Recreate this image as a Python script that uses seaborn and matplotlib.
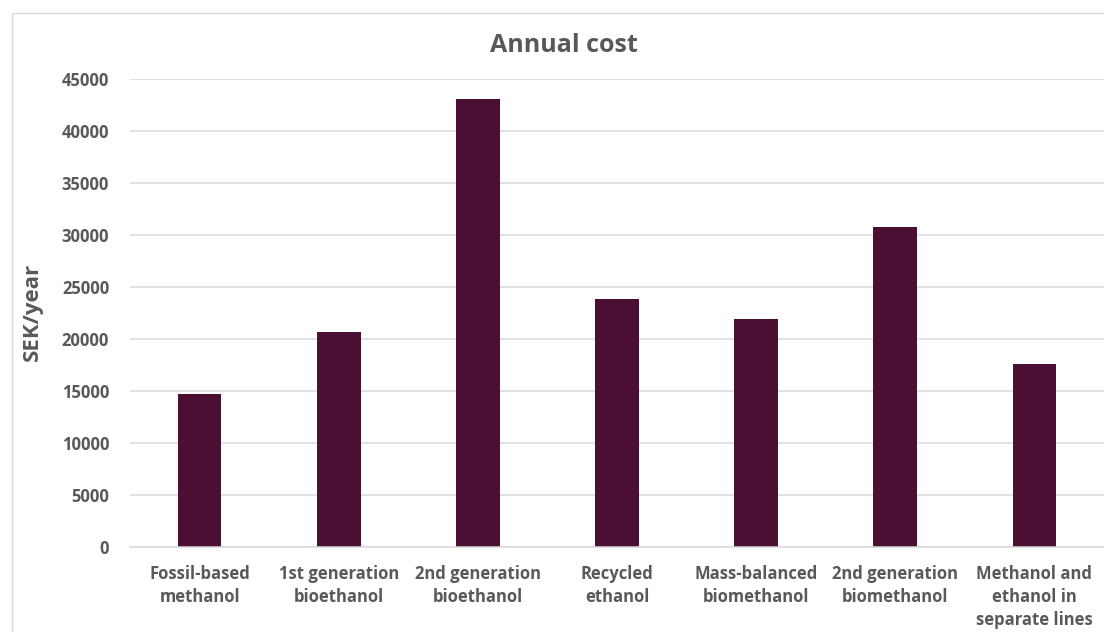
import matplotlib
matplotlib.use("Agg")
import matplotlib.pyplot as plt
import seaborn as sns
import pandas as pd
from matplotlib.patches import Rectangle

categories = [
    "Fossil-based\nmethanol",
    "1st generation\nbioethanol",
    "2nd generation\nbioethanol",
    "Recycled\nethanol",
    "Mass-balanced\nbiomethanol",
    "2nd generation\nbiomethanol",
    "Methanol and\nethanol in\nseparate lines",
]
annual_cost = [14700, 20600, 43100, 23800, 21900, 30800, 17600]
y_ticks = [0, 5000, 10000, 15000, 20000, 25000, 30000, 35000, 40000, 45000]

sns.set_theme(style="white")
plt.rcParams["font.family"] = ["Open Sans", "DejaVu Sans"]

df = pd.DataFrame({"category": categories, "cost": annual_cost})

W, H = 1104, 632
fig = plt.figure(figsize=(W / 100, H / 100), dpi=100)
ax = fig.add_axes([130 / W, 1 - 546.5 / H, (1104 - 130) / W, (546.5 - 79) / H])

bar_color = "#4B0F33"
text_color = "#595959"
grid_color = "#D9D9D9"

sns.barplot(data=df, x="category", y="cost", color=bar_color, width=0.315,
            saturation=1, ax=ax, edgecolor=bar_color, linewidth=0)

ax.set_ylim(0, 45000)
ax.set_xlim(-0.5, len(categories) - 0.5)
ax.set_yticks(y_ticks)
ax.set_yticklabels([str(v) for v in y_ticks])
ax.yaxis.grid(True, color=grid_color, linewidth=1.1)
ax.set_axisbelow(True)
for s in ["top", "right", "left"]:
    ax.spines[s].set_visible(False)
ax.spines["bottom"].set_color(grid_color)
ax.spines["bottom"].set_linewidth(1.1)

ax.tick_params(axis="y", length=0, pad=15, labelsize=12, labelcolor=text_color)
ax.tick_params(axis="x", length=0, pad=13, labelsize=12, labelcolor=text_color)
for lbl in ax.get_yticklabels() + ax.get_xticklabels():
    lbl.set_fontweight("bold")
for lbl in ax.get_xticklabels():
    lbl.set_linespacing(1.38)

ax.set_xlabel("")
ax.set_ylabel("SEK/year", fontsize=16, fontweight="bold", color=text_color)
ax.yaxis.set_label_coords(-(130 - 43) / (1104 - 130), (546.5 - 312) / (546.5 - 79))

fig.text(564 / W, 1 - 52 / H, "Annual cost", ha="center", va="baseline",
         fontsize=18, fontweight="bold", color=text_color)

fig.patches.append(Rectangle((12 / W, -0.1), 1.2, (1 - 13 / H) + 0.1,
                             transform=fig.transFigure, fill=False,
                             edgecolor="#D9D9D9", linewidth=1))

fig.savefig("out.png", dpi=100)
